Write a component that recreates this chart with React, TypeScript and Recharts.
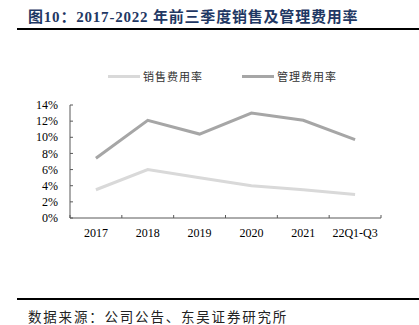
import { LineChart, Line, XAxis, YAxis, Legend } from 'recharts';

const years = ['2017', '2018', '2019', '2020', '2021', '22Q1-Q3'];
const salesRate = [3.5, 6.0, 5.0, 4.0, 3.5, 2.9];
const adminRate = [7.4, 12.1, 10.4, 13.0, 12.1, 9.7];
const yTicks = [0, 2, 4, 6, 8, 10, 12, 14];

const seriesNames = { sales: '销售费用率', admin: '管理费用率' };
const seriesColors = { sales: '#D9D9D9', admin: '#A6A6A6' };

const data = years.map((year, i) => ({
  year,
  sales: salesRate[i],
  admin: adminRate[i],
}));

const serif = '"Liberation Serif", "Times New Roman", serif';
const cjk = '"Noto Sans CJK SC", sans-serif';

// category tick: label below the axis, short inward mark at each band edge
function XTick(props: any) {
  const { x, y, payload, index, visibleTicksCount } = props;
  const off = payload.offset || 0;
  const last = index === visibleTicksCount - 1;
  return (
    <g>
      <line x1={x - off} y1={y} x2={x - off} y2={y - 3} stroke="#595959" />
      {last && <line x1={x + off} y1={y} x2={x + off} y2={y - 3} stroke="#595959" />}
      <text x={x} y={y + 10} dy="0.71em" textAnchor="middle" fontFamily={serif} fontSize={12} fill="#000">
        {payload.value}
      </text>
    </g>
  );
}

function YTick(props: any) {
  const { x, y, payload } = props;
  return (
    <g>
      <line x1={x} y1={y} x2={x + 3} y2={y} stroke="#595959" />
      <text x={x - 12} y={y} dy="0.35em" textAnchor="end" fontFamily={serif} fontSize={12} fill="#000">
        {`${payload.value}%`}
      </text>
    </g>
  );
}

function LegendContent() {
  const items = [
    { key: 'sales', gap: 0 },
    { key: 'admin', gap: 39 },
  ] as const;
  return (
    <div style={{ height: 50, display: 'flex', alignItems: 'flex-start', paddingLeft: 108 }}>
      {items.map((it) => (
        <div key={it.key} style={{ display: 'flex', alignItems: 'center', marginLeft: it.gap, marginTop: 13 }}>
          <span style={{ display: 'inline-block', width: 32, height: 3, background: seriesColors[it.key] }} />
          <span style={{ marginLeft: 3, fontFamily: cjk, fontSize: 11, letterSpacing: 1, color: '#333' }}>
            {seriesNames[it.key]}
          </span>
        </div>
      ))}
    </div>
  );
}

export default function App() {
  return (
    <div style={{ position: 'absolute', left: 0, top: 0, width: 419, height: 325, background: '#fff', overflow: 'hidden' }}>
      <div
        style={{
          position: 'absolute',
          left: 28,
          top: 5,
          fontFamily: `"Liberation Serif", ${cjk}`,
          fontWeight: 'bold',
          fontSize: 15,
          letterSpacing: 0.8,
          color: '#1F3864',
          whiteSpace: 'nowrap',
        }}
      >
        图10：2017-2022 年前三季度销售及管理费用率
      </div>
      <div style={{ position: 'absolute', left: 17, right: 0, top: 28, height: 2, background: '#000' }} />

      <div style={{ position: 'absolute', left: 0, top: 35 }}>
        <LineChart width={419} height={260} data={data} margin={{ top: 20, right: 38, bottom: 47, left: 0 }}>
          <Legend
            verticalAlign="top"
            content={<LegendContent />}
            wrapperStyle={{ left: 0, width: 419 }}
          />
          <XAxis
            dataKey="year"
            scale="band"
            axisLine={{ stroke: '#595959' }}
            tickLine={false}
            tickSize={0}
            tickMargin={0}
            interval={0}
            tick={<XTick />}
          />
          <YAxis
            width={70}
            domain={[0, 14]}
            ticks={yTicks}
            interval={0}
            axisLine={{ stroke: '#595959' }}
            tickLine={false}
            tickSize={0}
            tickMargin={0}
            tick={<YTick />}
          />
          <Line
            dataKey="sales"
            name={seriesNames.sales}
            stroke={seriesColors.sales}
            strokeWidth={3}
            dot={false}
            isAnimationActive={false}
          />
          <Line
            dataKey="admin"
            name={seriesNames.admin}
            stroke={seriesColors.admin}
            strokeWidth={3}
            dot={false}
            isAnimationActive={false}
          />
        </LineChart>
      </div>

      <div style={{ position: 'absolute', left: 17, right: 0, top: 298, height: 2, background: '#000' }} />
      <div
        style={{
          position: 'absolute',
          left: 28,
          top: 307,
          fontFamily: cjk,
          fontSize: 13.5,
          letterSpacing: 1.8,
          color: '#222',
          whiteSpace: 'nowrap',
          lineHeight: '18px',
        }}
      >
        数据来源：公司公告、东吴证券研究所
      </div>
    </div>
  );
}
